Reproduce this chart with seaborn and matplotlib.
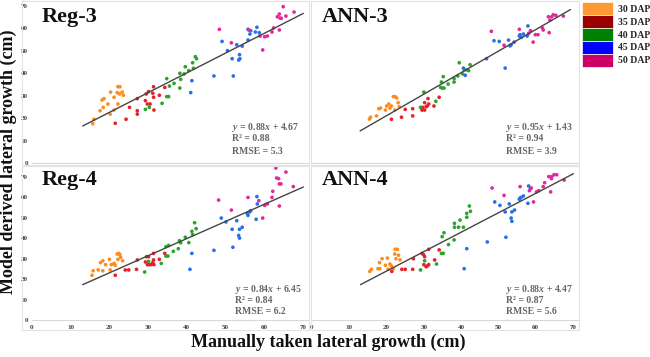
import numpy as np
import pandas as pd
import matplotlib
matplotlib.use("Agg")
import matplotlib.pyplot as plt
from matplotlib.patches import Patch, Rectangle
import seaborn as sns

# Growth stages and colours
stages = ["30 DAP", "35 DAP", "40 DAP", "45 DAP", "50 DAP"]
legend_colors = ["#FF9933", "#990000", "#008000", "#0000FF", "#CC0066"]
point_colors = ["#FF8C1A", "#E3232B", "#2AA52A", "#2A6FE8", "#E2289B"]

# --- Reg-3 ---
reg3_x = {
    "30 DAP": [15.7, 16.0, 17.6, 18.1, 18.6, 18.4, 19.6, 20.3, 20.2, 21.2, 21.2, 22.0, 22.2, 22.7, 22.6, 23.3, 23.6, 22.2],
    "35 DAP": [21.5, 24.3, 25.2, 27.2, 27.2, 27.2, 29.3, 29.5, 29.8, 30.5, 30.1, 31.2, 31.4, 31.4, 31.5, 32.9, 34.3],
    "40 DAP": [29.3, 30.3, 33.6, 34.8, 35.3, 35.5, 34.8, 36.7, 38.2, 38.4, 38.2, 39.3, 39.6, 40.5, 41.5, 41.7, 42.2, 42.5],
    "45 DAP": [41.0, 41.3, 47.0, 49.1, 50.5, 51.7, 52.0, 52.9, 53.6, 53.4, 53.7, 54.3, 55.8, 55.8, 56.5, 56.3, 58.1, 57.7, 58.7],
    "50 DAP": [48.4, 51.5, 56.0, 58.9, 59.6, 60.1, 60.8, 62.0, 62.4, 63.4, 63.9, 64.1, 64.4, 63.9, 64.9, 65.6, 67.7],
}
reg3_y = {
    "30 DAP": [17.5, 19.5, 23.3, 28.1, 28.7, 24.8, 26.3, 31.6, 21.8, 29.3, 23.6, 31.4, 34.0, 34.0, 30.8, 31.6, 30.2, 26.3],
    "35 DAP": [17.7, 19.5, 24.8, 23.3, 21.8, 28.7, 27.8, 30.8, 26.3, 26.3, 31.8, 31.1, 34.0, 29.3, 23.6, 30.2, 33.7],
    "40 DAP": [23.9, 24.8, 26.6, 29.6, 29.6, 34.3, 37.6, 35.5, 33.4, 37.3, 40.0, 39.7, 42.9, 41.2, 44.7, 42.2, 47.4, 46.5],
    "45 DAP": [31.4, 36.7, 38.8, 54.2, 50.1, 46.5, 38.8, 52.7, 48.3, 45.9, 46.5, 52.1, 54.8, 59.6, 59.0, 57.5, 60.5, 58.4, 58.1],
    "50 DAP": [59.6, 53.6, 59.3, 56.6, 50.4, 56.3, 56.6, 58.4, 60.2, 65.2, 66.4, 64.6, 64.5, 59.3, 69.7, 65.5, 67.3],
}

# --- ANN-3 ---
ann3_x = {
    "30 DAP": [15.4, 15.7, 17.3, 17.9, 18.4, 19.7, 20.0, 20.6, 20.9, 21.3, 21.8, 22.3, 22.7, 23.1, 23.4, 22.2],
    "35 DAP": [21.3, 24.0, 25.0, 27.0, 27.0, 29.5, 29.7, 30.2, 30.6, 30.2, 30.9, 31.3, 32.7, 34.1, 31.1],
    "40 DAP": [29.1, 30.0, 33.2, 34.5, 34.9, 35.4, 34.7, 35.2, 36.5, 38.1, 38.1, 39.1, 39.5, 40.4, 40.9, 41.6, 42.0, 42.4],
    "45 DAP": [40.6, 41.1, 46.8, 48.8, 50.2, 51.8, 52.7, 53.1, 53.4, 54.2, 55.6, 55.8, 56.1, 56.7, 57.9, 57.7],
    "50 DAP": [48.1, 51.5, 55.6, 58.1, 58.6, 59.3, 59.9, 60.6, 61.8, 62.0, 63.6, 63.4, 63.8, 64.3, 64.7, 65.4, 67.4],
}
ann3_y = {
    "30 DAP": [19.6, 20.4, 21.0, 24.2, 24.5, 23.6, 25.4, 26.3, 24.5, 25.4, 29.6, 29.6, 29.0, 26.9, 25.1, 23.6],
    "35 DAP": [19.5, 20.4, 23.9, 24.2, 21.0, 23.6, 24.8, 23.6, 25.1, 26.9, 25.4, 26.3, 25.4, 29.3, 28.7],
    "40 DAP": [24.8, 31.6, 27.5, 33.7, 33.4, 33.4, 36.1, 38.5, 35.2, 37.6, 36.1, 38.8, 44.7, 39.7, 41.5, 41.5, 41.2, 43.8],
    "45 DAP": [42.3, 39.1, 46.5, 54.5, 54.2, 42.3, 54.8, 52.2, 52.7, 53.9, 56.6, 57.2, 56.0, 57.5, 61.1, 56.6],
    "50 DAP": [58.7, 52.5, 59.6, 57.8, 59.0, 53.9, 57.2, 57.2, 60.2, 59.3, 58.1, 65.2, 63.7, 65.2, 66.1, 65.8, 65.5],
}

# --- Reg-4 ---
reg4_x = {
    "30 DAP": [15.5, 15.8, 17.1, 17.7, 18.3, 18.3, 19.0, 20.0, 20.2, 20.5, 21.2, 21.5, 22.0, 22.4, 22.7, 22.2, 22.9, 23.4],
    "35 DAP": [21.5, 24.1, 25.0, 27.0, 27.2, 29.3, 29.6, 30.1, 29.8, 30.3, 30.8, 31.2, 31.4, 31.4, 31.5, 32.9, 34.3],
    "40 DAP": [29.1, 30.1, 33.4, 34.6, 35.1, 34.6, 35.3, 36.5, 37.8, 38.1, 38.4, 39.6, 40.5, 41.5, 41.3, 42.0, 42.4],
    "45 DAP": [40.8, 41.3, 47.0, 48.9, 50.1, 51.7, 51.9, 52.9, 53.4, 53.6, 53.6, 54.3, 55.6, 55.8, 56.2, 56.5, 58.1, 57.9, 58.2],
    "50 DAP": [48.2, 51.5, 55.8, 58.6, 59.6, 60.1, 60.8, 62.0, 62.2, 63.2, 63.7, 63.9, 64.3, 63.9, 65.6, 67.5, 63.0],
}
reg4_y = {
    "30 DAP": [21.9, 24.1, 24.5, 28.1, 29.0, 24.1, 27.1, 29.7, 24.5, 27.1, 27.7, 26.8, 32.3, 32.6, 32.0, 29.7, 30.7, 29.0],
    "35 DAP": [21.9, 24.5, 24.5, 24.8, 29.4, 28.4, 31.0, 31.0, 27.1, 27.1, 27.1, 28.1, 29.4, 32.6, 27.1, 29.7, 32.6],
    "40 DAP": [23.5, 28.7, 27.7, 31.3, 31.3, 35.9, 36.5, 33.6, 34.9, 38.8, 37.8, 40.5, 37.9, 41.8, 43.4, 47.6, 44.7],
    "45 DAP": [24.8, 32.6, 34.1, 49.9, 48.0, 44.4, 35.6, 48.6, 41.4, 40.1, 44.4, 45.4, 52.2, 51.2, 52.9, 53.5, 60.4, 49.3, 56.8],
    "50 DAP": [58.7, 53.8, 60.0, 58.4, 49.9, 56.1, 56.8, 60.0, 63.0, 69.5, 69.2, 66.6, 66.6, 55.8, 72.4, 65.3, 74.4],
}

# --- ANN-4 ---
ann4_x = {
    "30 DAP": [15.5, 15.9, 17.7, 18.2, 18.1, 18.8, 19.7, 20.2, 20.4, 20.9, 21.3, 21.8, 22.2, 22.3, 22.9, 22.5, 23.2, 23.6],
    "35 DAP": [21.4, 24.1, 25.0, 27.2, 27.0, 29.5, 29.9, 30.2, 30.0, 30.6, 30.9, 31.3, 32.9, 34.1, 31.3],
    "40 DAP": [29.1, 30.2, 33.4, 34.7, 35.2, 36.6, 34.9, 35.4, 38.1, 38.2, 38.2, 39.3, 39.7, 40.6, 41.5, 41.5, 42.2, 42.5],
    "45 DAP": [40.8, 41.5, 47.0, 49.0, 50.4, 51.8, 52.0, 52.9, 53.4, 53.6, 53.6, 54.3, 55.6, 55.8, 56.1, 56.7, 58.1, 57.9, 58.6],
    "50 DAP": [48.3, 51.5, 55.8, 58.3, 58.8, 59.4, 60.2, 60.8, 62.0, 62.4, 64.0, 63.5, 64.2, 64.3, 64.9, 65.6, 67.6],
}
ann4_y = {
    "30 DAP": [23.8, 24.8, 25.1, 25.1, 28.1, 30.0, 26.8, 30.3, 24.8, 27.4, 26.4, 25.1, 32.3, 34.6, 34.6, 30.0, 31.7, 29.4],
    "35 DAP": [23.8, 24.8, 24.8, 30.0, 24.8, 32.6, 32.0, 31.0, 27.1, 26.1, 26.4, 27.1, 29.4, 34.3, 34.6],
    "40 DAP": [24.5, 29.0, 27.4, 32.6, 32.6, 36.9, 40.8, 42.7, 39.2, 47.3, 45.4, 45.4, 48.9, 45.4, 50.3, 52.2, 55.8, 53.2],
    "45 DAP": [25.1, 34.9, 38.2, 57.8, 56.1, 52.9, 40.5, 56.8, 49.9, 48.3, 52.9, 53.8, 59.1, 59.7, 60.0, 60.7, 65.6, 57.1, 64.3],
    "50 DAP": [64.6, 61.0, 65.3, 63.3, 64.6, 57.8, 62.7, 63.3, 65.3, 67.2, 62.7, 70.2, 69.2, 70.2, 71.1, 71.1, 68.5],
}

panel_names = ["Reg-3", "ANN-3", "Reg-4", "ANN-4"]
panel_x = [reg3_x, ann3_x, reg4_x, ann4_x]
panel_y = [reg3_y, ann3_y, reg4_y, ann4_y]

# fit line ends as drawn in the picture (x0, y0, x1, y1)
line_x0 = [13.1, 12.9, 13.1, 13.0]
line_y0 = [16.5, 14.3, 17.3, 17.3]
line_x1 = [70.1, 69.3, 70.1, 70.1]
line_y1 = [66.7, 68.4, 65.1, 71.6]

slopes = ["0.88", "0.95", "0.84", "0.88"]
intercepts = ["4.67", "1.43", "6.45", "4.47"]
r2_vals = ["0.88", "0.94", "0.84", "0.87"]
rmse_vals = ["5.3", "3.9", "6.2", "5.6"]

ticks = [0, 10, 20, 30, 40, 50, 60, 70]

# build one long table
rows = []
for name, xs, ys in zip(panel_names, panel_x, panel_y):
    for st in stages:
        for a, b in zip(xs[st], ys[st]):
            rows.append({"panel": name, "stage": st, "measured": a, "predicted": b})
df = pd.DataFrame(rows)

sns.set_style("white")
plt.rcParams["font.family"] = ["Liberation Serif", "DejaVu Serif"]
plt.rcParams["font.weight"] = "bold"
plt.rcParams["mathtext.fontset"] = "custom"
plt.rcParams["mathtext.it"] = "Liberation Serif:italic:bold"
plt.rcParams["mathtext.rm"] = "Liberation Serif:bold"

W, H = 650, 357
fig = plt.figure(figsize=(6.5, 3.57), dpi=100)

# panel boxes in pixels: left, right, top, bottom
boxes = [(32, 308, 3, 163), (312, 579, 3, 163), (32, 308, 166, 320), (312, 579, 166, 320)]
xscale = [3.871, 3.729, 3.871, 3.729]
yscale = [2.243, 2.243, 2.043, 2.043]
frames = [(22, 309, 1, 165), (311, 579, 1, 165), (22, 309, 166, 330), (311, 579, 166, 330)]

for fr in frames:
    fig.patches.append(Rectangle((fr[0] / W, 1 - fr[3] / H), (fr[1] - fr[0]) / W, (fr[3] - fr[2]) / H,
                                 transform=fig.transFigure, fill=False, edgecolor="#e3e3e3", lw=0.8))

palette = dict(zip(stages, point_colors))
for i, name in enumerate(panel_names):
    l, r, t, b = boxes[i]
    ax = fig.add_axes([l / W, 1 - b / H, (r - l) / W, (b - t) / H])
    sub = df[df["panel"] == name]
    sns.scatterplot(data=sub, x="measured", y="predicted", hue="stage", palette=palette,
                    s=7, linewidth=0, legend=False, ax=ax, clip_on=False)
    ax.plot([line_x0[i], line_x1[i]], [line_y0[i], line_y1[i]], color="#454545", lw=1.0)
    ax.set_xlim(0, (r - l) / xscale[i])
    ax.set_ylim(0, (b - t) / yscale[i])
    ax.set_xticks(ticks)
    ax.set_yticks(ticks)
    ax.set_xlabel("")
    ax.set_ylabel("")
    for sp in ["top", "right", "left"]:
        ax.spines[sp].set_visible(False)
    ax.spines["bottom"].set_color("#d9d9d9")
    ax.spines["bottom"].set_linewidth(0.8)
    ax.tick_params(axis="x", length=2, width=0.6, color="#d0d0d0", pad=1.5,
                   labelsize=5, labelcolor="#404040", labelbottom=(i >= 2))
    ax.tick_params(axis="y", length=0, pad=3, labelsize=5, labelcolor="#404040",
                   labelleft=(i % 2 == 0))
    ax.set_facecolor("white")

    ax.text(0.036, 0.975, name, transform=ax.transAxes, fontsize=16, fontweight="bold",
            va="top", ha="left", color="#111111")
    if i < 2:
        ys_txt = [0.219, 0.150, 0.069]
    else:
        ys_txt = [0.201, 0.128, 0.055]
    xt = 0.725 if i != 2 else 0.735
    ax.text(xt, ys_txt[0], r"$y$ = " + slopes[i] + r"$x$ + " + intercepts[i],
            transform=ax.transAxes, fontsize=7, color="#666666", va="center")
    ax.text(xt, ys_txt[1], "R² = " + r2_vals[i], transform=ax.transAxes,
            fontsize=7, fontweight="bold", color="#666666", va="center")
    ax.text(xt, ys_txt[2], "RMSE = " + rmse_vals[i], transform=ax.transAxes,
            fontsize=7, fontweight="bold", color="#666666", va="center")

# legend with coloured blocks
handles = [Patch(facecolor=c, edgecolor="white", lw=0.5) for c in legend_colors]
fig.legend(handles, stages, loc="upper left", bbox_to_anchor=(582 / W, 1 - 2 / H),
           frameon=False, fontsize=7, prop={"weight": "bold", "size": 7},
           handlelength=3.2, handleheight=1.67, labelspacing=0, handletextpad=0.5,
           borderpad=0, borderaxespad=0)

fig.text(8 / W, 1 - 162 / H, "Model derived lateral growth (cm)", rotation=90,
         fontsize=13, fontweight="bold", ha="center", va="center", color="#111111")
fig.text(328 / W, 1 - 342 / H, "Manually taken lateral growth (cm)",
         fontsize=13, fontweight="bold", ha="center", va="center", color="#111111")

fig.savefig("out.png", dpi=100)
